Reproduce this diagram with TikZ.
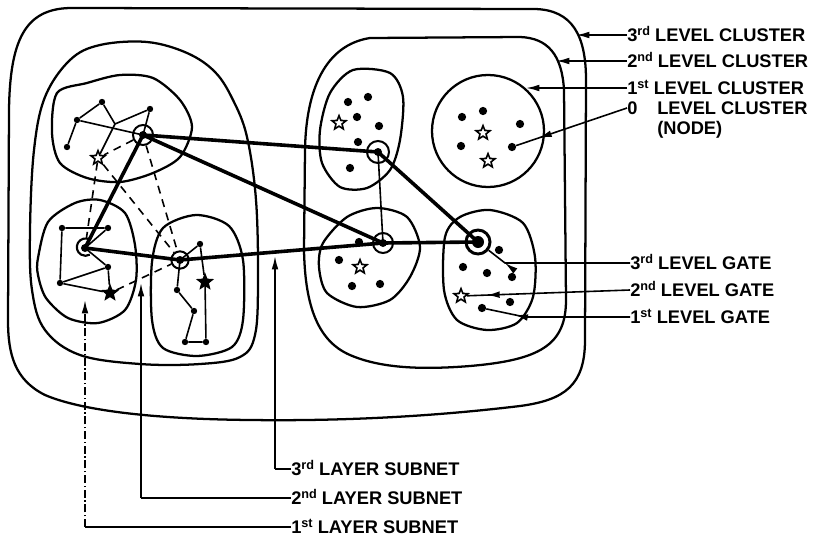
\documentclass[tikz,border=0pt]{standalone}
\usepackage{fontspec}
\setmainfont{Liberation Sans}
\usetikzlibrary{shapes.geometric,arrows.meta,decorations.markings}
\pgfdeclarelayer{background}
\pgfsetlayers{background,main}
\newcommand\supx[1]{\raisebox{4.6pt}{\fontsize{9.5}{9.5}\selectfont #1}}
\begin{document}
\begin{tikzpicture}[x=0.75pt,y=-0.75pt,
  clus/.style={line width=1.7pt, line join=round},
  lnk/.style={line width=2.7pt, line cap=round, line join=round},
  thinl/.style={line width=1.2pt, line join=round},
  dashl/.style={line width=1.2pt, dash pattern=on 6pt off 4.5pt},
  dotn/.style={circle, fill=black, inner sep=0pt, minimum size=6.2pt},
  sdot/.style={circle, fill=black, inner sep=0pt, minimum size=4.8pt},
  gate/.style={circle, draw, line width=1.5pt, inner sep=0pt, minimum size=#1,
    path picture={\fill (path picture bounding box.center) circle (3pt);}},
  gatebig/.style={circle, draw, line width=2.2pt, inner sep=0pt, minimum size=#1,
    path picture={\fill (path picture bounding box.center) circle (4.5pt);}},
  hstar/.style={star, star points=5, star point ratio=2.3, draw, fill=white, line width=1.2pt, inner sep=0pt, minimum size=11pt},
  fstar/.style={hstar, fill=black},
  lbl/.style={font=\bfseries\fontsize{13.7}{14}\selectfont, anchor=west, inner sep=0pt, text height=9.8pt, text depth=0pt},
  lead/.style={line width=1.2pt},
  ptr/.style={lead, -{Latex[length=10pt,width=5pt]}},
  midarr/.style={lead, postaction={decorate}, decoration={markings, mark=at position #1 with {\arrow{Latex[length=10pt,width=5pt]}}}}
]
\useasboundingbox (0,0) rectangle (813,539);

% ---------- gates (3rd level) ----------
\node[gate=15pt] (gA) at (143,135) {};
\node[gate=13pt, draw=none] (gB) at (85,248) {};
\node[gate=13pt] (gC) at (180,260) {};
\node[gate=16.5pt] (gR1) at (378,152) {};
\node[gate=15pt] (gR3) at (383,243) {};
\node[gatebig=18pt] (gR4) at (478,242) {};
\draw[line width=1.6pt] (gB.60) arc[start angle=60, end angle=300, radius=6.5pt];

% ---------- top-left subnet ----------
\node[sdot] (a1) at (77,120) {};
\node[sdot] (a2) at (102,102) {};
\coordinate (a3) at (115,124);
\node[sdot] (a4) at (150,109) {};
\node[sdot] (a5) at (67,147) {};
\node[hstar] (s1) at (98,158) {};

% ---------- middle-left subnet ----------
\node[sdot] (b1) at (62,228) {};
\node[sdot] (b2) at (108,228) {};
\node[sdot] (b3) at (60,283) {};
\node[sdot] (b4) at (108,267) {};
\node[fstar] (sB) at (110,293) {};

% ---------- bottom-middle subnet ----------
\node[sdot] (c1) at (200,244) {};
\node[fstar] (sC) at (205,282) {};
\node[sdot] (c3) at (177,290) {};
\node[sdot] (c4) at (194,311) {};
\node[sdot] (c5) at (185,342) {};
\node[sdot] (c6) at (206,342) {};

% ---------- right clusters ----------
\node[dotn] (r1a) at (348,102) {};
\node[dotn] (r1b) at (368,97) {};
\node[dotn] (r1c) at (357,117) {};
\node[dotn] (r1d) at (379,126) {};
\node[dotn] (r1e) at (358,142) {};
\node[dotn] (r1f) at (350,168) {};
\node[hstar] (sR1) at (339,123) {};

\node[dotn] (r2a) at (462,117) {};
\node[dotn] (r2b) at (483,111) {};
\node[dotn] (r2c) at (520,124) {};
\node[dotn] (r2d) at (461,146) {};
\node[dotn] (r2e) at (512,147) {};
\node[hstar] (sR2a) at (483,133) {};
\node[hstar] (sR2b) at (488,161) {};

\node[dotn] (r3a) at (359,242) {};
\node[dotn] (r3b) at (339,260) {};
\node[dotn] (r3c) at (380,284) {};
\node[dotn] (r3d) at (352,286) {};
\node[hstar] (sR3) at (360,267) {};

\node[dotn] (r4a) at (499,250) {};
\node[dotn] (r4b) at (463,267) {};
\node[dotn] (r4c) at (487,273) {};
\node[dotn] (r4d) at (512,277) {};
\node[dotn] (r4e) at (510,302) {};
\node[dotn] (r4f) at (482,308) {};
\node[hstar] (sR4) at (461,296) {};

% ---------- labels ----------
\node[lbl] (l3c) at (627,35) {3\supx{rd} LEVEL CLUSTER};
\node[lbl] (l2c) at (627,61) {2\supx{nd} LEVEL CLUSTER};
\node[lbl] (l1c) at (627,88) {1\supx{st} LEVEL CLUSTER};
\node[lbl] (l0n) at (627,108) {0};
\node[lbl] (l0c) at (657,108) {LEVEL CLUSTER};
\node[lbl] (l0p) at (657,128) {(NODE)};
\node[lbl] (l3g) at (630,263) {3\supx{rd} LEVEL GATE};
\node[lbl] (l2g) at (630,290) {2\supx{nd} LEVEL GATE};
\node[lbl] (l1g) at (630,317) {1\supx{st} LEVEL GATE};
\node[lbl] (l3s) at (291,469) {3\supx{rd} LAYER SUBNET};
\node[lbl] (l2s) at (291,498) {2\supx{nd} LAYER SUBNET};
\node[lbl] (l1s) at (291,527) {1\supx{st} LAYER SUBNET};

\coordinate (t3c) at (576,35);
\coordinate (t2c) at (556,61);
\coordinate (t1c) at (526,88);
\coordinate (b3g) at (505,263);
\coordinate (b1g) at (525,317);
\coordinate (t3s) at (275,256);
\coordinate (c3s) at (275,469);
\coordinate (t2s) at (141,283);
\coordinate (c2s) at (141,498);
\coordinate (t1s) at (85,300);
\coordinate (c1s) at (85,527);

\begin{pgfonlayer}{background}
% outer 3rd level cluster
\draw[clus] (70,8) -- (535,9) .. controls (572,10) and (586,35) .. (586,80)
  -- (585,340) .. controls (585,385) and (565,400) .. (520,406)
  .. controls (420,418) and (330,421) .. (250,420)
  .. controls (150,419) and (80,410) .. (45,395)
  .. controls (15,380) and (8,355) .. (8,320)
  -- (9,110) .. controls (10,40) and (25,9) .. (70,8) -- cycle;
% left 2nd level cluster
\draw[clus] plot[smooth cycle, tension=0.6] coordinates {(30,230) (34,150) (45,97) (70,60) (100,45) (147,42) (187,53) (215,72) (233,100) (247,137) (256,200) (258,280) (255,335) (240,357) (200,364) (140,364) (80,355) (45,330) (32,290)};
% right 2nd level cluster
\draw[clus] (370,38) -- (520,37) .. controls (548,38) and (562,55) .. (564,90)
  -- (566,300) .. controls (566,345) and (540,360) .. (470,366)
  .. controls (420,370) and (380,368) .. (350,355)
  .. controls (315,340) and (305,300) .. (304,250)
  -- (305,150) .. controls (306,90) and (325,45) .. (370,38) -- cycle;
% 1st level clusters
\draw[clus] plot[smooth cycle] coordinates {(52,133) (57,93) (87,83) (120,75) (153,78) (180,100) (192,127) (180,157) (153,173) (120,182) (87,178) (60,163)};
\draw[clus] plot[smooth cycle] coordinates {(38,258) (48,222) (75,203) (100,200) (125,213) (135,245) (136,280) (125,310) (98,323) (68,318) (46,298) (38,275)};
\draw[clus] plot[smooth cycle] coordinates {(152,262) (163,228) (196,215) (229,226) (243,260) (243,320) (232,347) (197,356) (163,348) (152,320)};
\draw[clus] plot[smooth cycle] coordinates {(330,93) (353,70) (390,73) (403,97) (400,140) (390,170) (367,188) (340,187) (322,163) (320,130)};
\draw[clus] (488,131) circle[radius=56];
\draw[clus] plot[smooth cycle] coordinates {(323,243) (347,217) (377,208) (407,217) (420,247) (410,277) (390,300) (357,307) (327,293) (319,267)};
\draw[clus] plot[smooth cycle] coordinates {(445,237) (460,217) (490,210) (523,223) (535,257) (533,297) (517,323) (487,330) (457,320) (444,290)};

% 3rd layer subnet links
\draw[lnk] (gA.center) -- (gR1.center);
\draw[lnk] (gA.center) -- (gR3.center);
\draw[lnk] (gA.center) -- (gB.center);
\draw[lnk] (gB.center) -- (gC.center) -- (gR3.center) -- (gR4.center);
\draw[lnk] (gR1.center) -- (gR4.center);
\draw[thinl] (gR1.center) -- (gR3.center);

% 1st layer subnets
\draw[thinl] (gA.center) -- (a1) -- (a2) -- (a3) -- (a4) -- (gA.center);
\draw[thinl] (a1) -- (a5);
\draw[thinl] (a3) -- (s1);
\draw[thinl] (b2) -- (b1) -- (b3) -- (b4);
\draw[thinl] (b3) -- (sB) -- (b4) -- (gB.center) -- (b2);
\draw[thinl] (gC.center) -- (c1) -- (sC) -- (c6) -- (c5) -- (c4) -- (c3) -- (gC.center);

% 2nd layer subnet (dashed)
\draw[dashl] (gA) -- (s1);
\draw[dashl] (s1) -- (gB);
\draw[dashl] (s1) -- (gC);
\draw[dashl] (gA) -- (gC);
\draw[dashl] (sB) -- (gC);

% leaders
\draw[ptr] (l3c.west) -- (t3c);
\draw[ptr] (l2c.west) -- (t2c);
\draw[ptr] (l1c.west) -- (t1c);
\draw[midarr=0.8] (l0n.west) -- (r2e);
\draw[midarr=0.86] (l3g.west) -- (b3g) -- (gR4);
\draw[midarr=0.88] (l2g.west) -- (sR4);
\draw[midarr=0.8] (l1g.west) -- (b1g) -- (r4f);
\draw[lead] (l3s.west) -- (c3s);
\draw[ptr] (c3s) -- (t3s);
\draw[lead] (l2s.west) -- (c2s);
\draw[ptr] (c2s) -- (t2s);
\draw[lead] (l1s.west) -- (c1s);
\draw[ptr, dash pattern=on 6pt off 2pt on 1pt off 2pt] (c1s) -- (t1s);
\end{pgfonlayer}
\end{tikzpicture}
\end{document}
